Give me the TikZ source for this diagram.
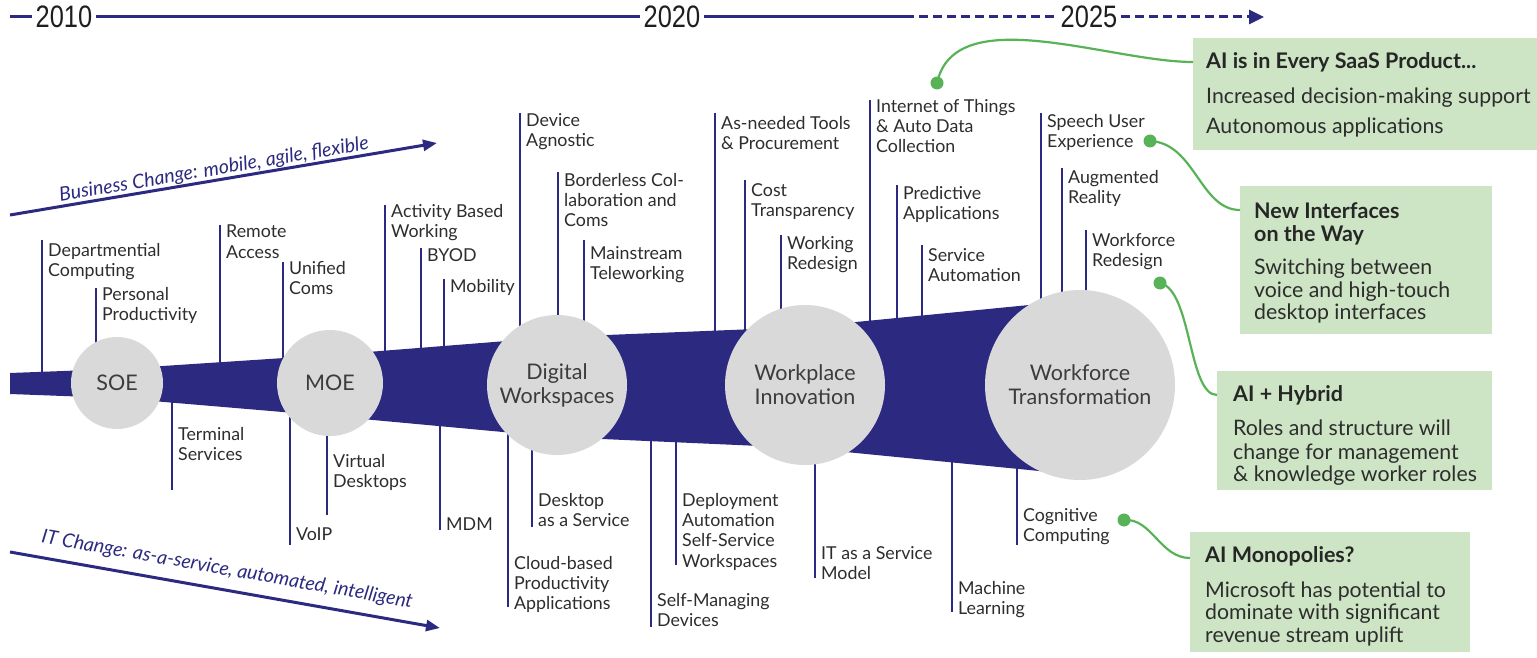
\documentclass[tikz,border=0pt]{standalone}
\usepackage{fontspec}
\usepackage{graphicx}
\setmainfont{Lato}
\newfontfamily\yearfont{Liberation Sans}
\usetikzlibrary{arrows.meta}
\definecolor{navy}{RGB}{43,42,128}
\definecolor{txt}{RGB}{45,45,45}
\definecolor{ytxt}{RGB}{30,30,30}
\definecolor{cgray}{RGB}{217,217,217}
\definecolor{ctxt}{RGB}{60,60,60}
\definecolor{gfill}{RGB}{205,229,196}
\definecolor{gline}{RGB}{88,178,88}
\begin{document}
\begin{tikzpicture}[x=1pt,y=-1pt,
  tick/.style={draw=navy,line width=2.4pt},
  lbl/.style={anchor=north west,inner sep=0pt,align=left,text=txt,font=\fontsize{17.8}{20.3}\selectfont},
  circ/.style={circle,fill=cgray,draw=none,text=ctxt,align=center,font=\fontsize{21.5}{24}\selectfont,inner sep=0pt},
  gbox/.style={fill=gfill,draw=none,anchor=north west,inner sep=0pt},
  gdot/.style={circle,fill=gline,inner sep=0pt,minimum size=13pt},
  glink/.style={draw=gline,line width=2.2pt},
  btitle/.style={anchor=base west,inner sep=0pt,font=\bfseries\fontsize{21.5}{23}\selectfont,text=black!85},
  bbody/.style={anchor=base west,inner sep=0pt,font=\fontsize{21.3}{23}\selectfont,text=txt},
  year/.style={inner xsep=4pt,inner ysep=0pt,text=ytxt,font=\yearfont\fontsize{31}{31}\selectfont},
  tl/.style={draw=navy,line width=3pt},
  chg/.style={text=navy,inner sep=0pt,font=\itshape\fontsize{19.5}{22}\selectfont}
]
\useasboundingbox (0,0) rectangle (1537,658);

% ---- timeline ----
\coordinate (tstart) at (10,17);
\coordinate (tdash) at (905,17);
\coordinate (tend) at (1264,17);
\node[year] (y2010) at (64,17) {\scalebox{0.82}[1]{2010}};
\node[year] (y2020) at (672,17) {\scalebox{0.82}[1]{2020}};
\node[year] (y2025) at (1089,17) {\scalebox{0.82}[1]{2025}};
\draw[tl] (tstart) -- (y2010.west);
\draw[tl] (y2010.east) -- (y2020.west);
\draw[tl] (y2020.east) -- (tdash);
\draw[tl,dash pattern=on 9pt off 5pt] (tdash) -- (y2025.west);
\draw[tl,dash pattern=on 9pt off 5pt,-{Triangle[length=15pt,width=14pt]}] (y2025.east) -- (tend);

% ---- change arrows ----
\coordinate (bcs) at (10,215);
\coordinate (bce) at (437,143);
\draw[navy,line width=3pt,-{Triangle[length=14pt,width=11pt]}] (bcs) -- (bce);
\node[chg,rotate=9.6] (bct) at (214,170) {Business Change: mobile, agile, flexible};
\coordinate (its) at (10,552);
\coordinate (ite) at (440,628);
\draw[navy,line width=3pt,-{Triangle[length=14pt,width=11pt]}] (its) -- (ite);
\node[chg,rotate=-10] (itt) at (227,570) {IT Change: as-a-service, automated, intelligent};

% ---- ticks ----
\foreach \x/\t in {42/240,96/288,220/225,283/262,385/205,421/248,444/279,520/113,558/172,584/240,715/113,745/180,781/235,870/100,897/185,922/245,1041/113,1062/168,1086/230}
  \draw[tick] (\x,\t) -- (\x,385);
\foreach \x/\b in {172/490,290/545,327/515,440/530,508/607,532/527,651/627,676/565,815/578,952/612,1017/545}
  \draw[tick] (\x,385) -- (\x,\b);

% ---- band ----
\fill[navy] (10,373) -- (117,369) -- (330,355) -- (557,337) -- (805,327) -- (1080,300)
  -- (1080,475) -- (805,448) -- (557,437) -- (330,416) -- (117,398) -- (10,394) -- cycle;

% ---- stage circles ----
\node[circ,minimum size=92pt] (soe) at (117,383) {SOE};
\node[circ,minimum size=106pt] (moe) at (330,383) {MOE};
\node[circ,minimum size=140pt] (dw) at (557,385) {Digital\\Workspaces};
\node[circ,minimum size=160pt] (wi) at (805,385) {Workplace\\Innovation};
\node[circ,minimum size=190pt] (wt) at (1080,385) {Workforce\\Transformation};

% ---- labels above ----
\node[lbl] (l1) at (48,243) {Departmential\\Computing};
\node[lbl] (l2) at (102,287) {Personal\\Productivity};
\node[lbl] (l3) at (226,225) {Remote\\Access};
\node[lbl] (l4) at (289,261) {Unified\\Coms};
\node[lbl] (l5) at (391,204) {Activity Based\\Working};
\node[lbl] (l6) at (427,248) {BYOD};
\node[lbl] (l7) at (450,279) {Mobility};
\node[lbl] (l8) at (526,113) {Device\\Agnostic};
\node[lbl] (l9) at (564,173) {Borderless Col-\\laboration and\\Coms};
\node[lbl] (l10) at (590,246) {Mainstream\\Teleworking};
\node[lbl] (l11) at (721,116) {As-needed Tools\\\& Procurement};
\node[lbl] (l12) at (751,183) {Cost\\Transparency};
\node[lbl] (l13) at (787,236) {Working\\Redesign};
\node[lbl] (l14) at (876,99) {Internet of Things\\\& Auto Data\\Collection};
\node[lbl] (l15) at (903,186) {Predictive\\Applications};
\node[lbl] (l16) at (928,248) {Service\\Automation};
\node[lbl] (l17) at (1047,114) {Speech User\\Experience};
\node[lbl] (l18) at (1068,170) {Augmented\\Reality};
\node[lbl] (l19) at (1092,233) {Workforce\\Redesign};

% ---- labels below ----
\node[lbl] (m1) at (178,427) {Terminal\\Services};
\node[lbl] (m2) at (296,528) {VoIP};
\node[lbl] (m3) at (333,454) {Virtual\\Desktops};
\node[lbl] (m4) at (446,518) {MDM};
\node[lbl] (m5) at (514,556) {Cloud-based\\Productivity\\Applications};
\node[lbl] (m6) at (538,493) {Desktop\\as a Service};
\node[lbl] (m7) at (657,593) {Self-Managing\\Devices};
\node[lbl] (m8) at (682,493) {Deployment\\Automation\\Self-Service\\Workspaces};
\node[lbl] (m9) at (821,546) {IT as a Service\\Model};
\node[lbl] (m10) at (958,581) {Machine\\Learning};
\node[lbl] (m11) at (1023,508) {Cognitive\\Computing};

% ---- green boxes ----
\node[gbox,minimum width=344pt,minimum height=112pt] (b1) at (1193,38) {};
\node[btitle] (b1t) at (1206,69) {AI is in Every SaaS Product...};
\node[bbody] (b1a) at (1206,104) {Increased decision-making support};
\node[bbody] (b1b) at (1206,134) {Autonomous applications};

\node[gbox,minimum width=252pt,minimum height=148pt] (b2) at (1240,186) {};
\node[btitle] (b2t) at (1254,218) {New Interfaces};
\node[btitle] (b2u) at (1254,241) {on the Way};
\node[bbody] (b2a) at (1254,274) {Switching between};
\node[bbody] (b2b) at (1254,297) {voice and high-touch};
\node[bbody] (b2c) at (1254,319) {desktop interfaces};

\node[gbox,minimum width=275pt,minimum height=119pt] (b3) at (1217,371) {};
\node[btitle] (b3t) at (1233,401) {AI + Hybrid};
\node[bbody] (b3a) at (1233,435) {Roles and structure will};
\node[bbody] (b3b) at (1233,459) {change for management};
\node[bbody] (b3c) at (1233,481) {\& knowledge worker roles};

\node[gbox,minimum width=280pt,minimum height=120pt] (b4) at (1190,532) {};
\node[btitle] (b4t) at (1205,562) {AI Monopolies?};
\node[bbody] (b4a) at (1205,597) {Microsoft has potential to};
\node[bbody] (b4b) at (1205,619) {dominate with significant};
\node[bbody] (b4c) at (1205,642) {revenue stream uplift};

% ---- green connectors ----
\node[gdot] (g1) at (937,83) {};
\node[gdot] (g2) at (1150,141) {};
\node[gdot] (g3) at (1160,283) {};
\node[gdot] (g4) at (1124,520) {};
\draw[glink] (g1.center) .. controls (955,0) and (1110,62) .. ([yshift=-24pt]b1.north west);
\draw[glink] (g2.center) .. controls (1195,143) and (1200,210) .. ([yshift=-24pt]b2.north west);
\draw[glink] (g3.center) .. controls (1192,290) and (1188,395) .. ([yshift=-24pt]b3.north west);
\draw[glink] (g4.center) .. controls (1152,518) and (1160,558) .. ([yshift=-26pt]b4.north west);
\end{tikzpicture}
\end{document}
